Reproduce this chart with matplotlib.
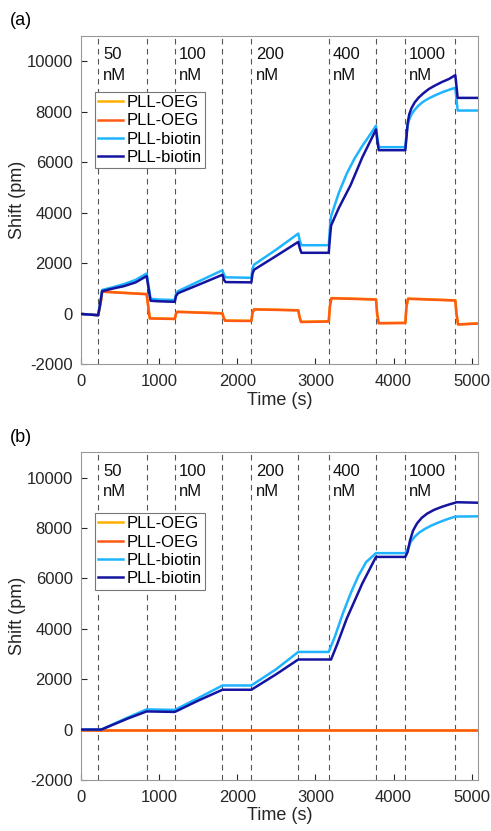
import matplotlib
matplotlib.use("Agg")
import matplotlib.pyplot as plt

plt.rcParams['font.family'] = ['Liberation Sans', 'DejaVu Sans']
plt.rcParams['axes.unicode_minus'] = False

# injection / rinse times (s)
a_marks = [220, 840, 1200, 1810, 2180, 3170, 3775, 4150, 4790]
b_marks = [220, 840, 1200, 1810, 2180, 2780, 3170, 3775, 4150, 4790]
conc_x = [285, 1255, 2235, 3220, 4190]
conc_lbl = ['50\nnM', '100\nnM', '200\nnM', '400\nnM', '1000\nnM']

# panel (a)
a_t_dark = [0, 220, 250, 270, 400, 550, 700, 840, 870, 890, 1000, 1200, 1215, 1240, 1500, 1810,
            1830, 1850, 2180, 2195, 2215, 2500, 2780, 2800, 2820, 3170, 3185, 3200, 3300, 3450,
            3600, 3775, 3790, 3810, 4150, 4165, 4180, 4200, 4230, 4270, 4320, 4380, 4450, 4530,
            4620, 4710, 4790, 4805, 4820, 5080]
a_dark = [0, -50, 500, 900, 1000, 1100, 1250, 1500, 900, 520, 500, 480, 700, 820, 1150, 1550,
          1350, 1260, 1250, 1600, 1750, 2300, 2850, 2600, 2420, 2420, 3000, 3500, 4200, 5100,
          6200, 7300, 6900, 6480, 6480, 7000, 7550, 7900, 8150, 8370, 8560, 8730, 8900, 9040,
          9180, 9300, 9450, 9000, 8550, 8550]
a_t_light = [0, 220, 250, 270, 400, 550, 700, 840, 870, 890, 1000, 1200, 1215, 1240, 1500, 1810,
             1830, 1850, 2180, 2195, 2215, 2500, 2780, 2800, 2820, 3170, 3185, 3200, 3300, 3400,
             3500, 3600, 3700, 3775, 3790, 3810, 4150, 4165, 4180, 4200, 4230, 4270, 4320, 4380,
             4450, 4530, 4620, 4710, 4790, 4805, 4820, 5080]
a_light = [0, -50, 500, 950, 1050, 1180, 1350, 1600, 1000, 600, 570, 550, 780, 900, 1280, 1730,
           1550, 1450, 1430, 1800, 1950, 2550, 3180, 2900, 2720, 2720, 3400, 3870, 4800, 5550,
           6150, 6650, 7100, 7450, 7000, 6600, 6600, 7100, 7450, 7700, 7900, 8080, 8250, 8400,
           8530, 8650, 8770, 8870, 8950, 8500, 8050, 8050]
a_t_oeg = [0, 220, 250, 270, 840, 860, 880, 1200, 1215, 1235, 1810, 1825, 1845, 2180, 2195, 2215,
           2780, 2795, 2815, 3170, 3185, 3205, 3775, 3790, 3810, 4150, 4165, 4185, 4790, 4805,
           4825, 5080]
a_oeg2 = [0, -50, 400, 880, 780, 300, -180, -200, 0, 80, 20, -150, -270, -280, 50, 180,
          140, -100, -320, -300, 300, 620, 570, 0, -370, -360, 300, 600, 530, 0,
          -420, -380]
a_oeg1 = [0, -50, 400, 890, 790, 300, -170, -190, 0, 90, 30, -150, -260, -270, 50, 190,
          150, -100, -310, -290, 300, 630, 580, 0, -360, -350, 300, 610, 540, 0,
          -410, -370]

# panel (b)
b_t_light = [0, 260, 400, 600, 840, 1200, 1500, 1810, 2180, 2500, 2780, 3170, 3250, 3350, 3450,
             3550, 3650, 3775, 4150, 4180, 4220, 4270, 4330, 4400, 4480, 4570, 4680, 4790, 5080]
b_light = [0, 0, 200, 480, 800, 780, 1250, 1750, 1750, 2400, 3080, 3080, 3700, 4600, 5400,
           6100, 6650, 7000, 7000, 7150, 7450, 7650, 7820, 7960, 8090, 8210, 8340, 8450, 8460]
b_t_dark = [0, 260, 400, 600, 840, 1200, 1500, 1810, 2180, 2500, 2780, 3200, 3280, 3400, 3500,
            3600, 3700, 3775, 4150, 4180, 4210, 4250, 4300, 4360, 4430, 4520, 4620, 4720, 4790,
            4800, 5080]
b_dark = [0, 0, 180, 440, 720, 700, 1150, 1580, 1580, 2200, 2780, 2780, 3400, 4400, 5100,
          5800, 6400, 6850, 6850, 7050, 7500, 7900, 8180, 8400, 8570, 8720, 8840, 8940, 9000,
          9020, 9000]
b_t_oeg = [0, 5080]
b_oeg = [0, 0]

c_oeg1 = '#FFB000'
c_oeg2 = '#FF5A14'
c_light = '#1EB4FF'
c_dark = '#1414A0'

fig = plt.figure(figsize=(4.91, 8.31), dpi=100)
ax_a = fig.add_axes([0.165, 0.5614, 0.8085, 0.3953])
ax_b = fig.add_axes([0.165, 0.0614, 0.8085, 0.3943])

panels = [
    (ax_a, a_marks, [(a_t_oeg, a_oeg1), (a_t_oeg, a_oeg2), (a_t_light, a_light), (a_t_dark, a_dark)], 0.83),
    (ax_b, b_marks, [(b_t_oeg, b_oeg), (b_t_oeg, b_oeg), (b_t_light, b_light), (b_t_dark, b_dark)], 0.815),
]
names = ['PLL-OEG', 'PLL-OEG', 'PLL-biotin', 'PLL-biotin']
colors = [c_oeg1, c_oeg2, c_light, c_dark]

for ax, marks, series, leg_y in panels:
    for m in marks:
        ax.axvline(m, color='#555555', ls=(0, (5, 4)), lw=0.8, zorder=1)
    for (t, v), nm, c in zip(series, names, colors):
        ax.plot(t, v, color=c, lw=1.8, label=nm, zorder=3)
    for x, s in zip(conc_x, conc_lbl):
        ax.text(x, 10550, s, fontsize=12, ha='left', va='top', linespacing=1.45, color='#111111')
    ax.set_xlim(0, 5080)
    ax.set_ylim(-2000, 11000)
    ax.set_xticks(range(0, 5001, 1000))
    ax.set_yticks(range(-2000, 10001, 2000))
    ax.tick_params(direction='in', labelsize=12, colors='#262626', length=4)
    ax.tick_params(axis='x', pad=7)
    ax.tick_params(axis='y', pad=6)
    for sp in ax.spines.values():
        sp.set_color('#999999')
        sp.set_linewidth(0.8)
    ax.set_xlabel('Time (s)', fontsize=13, color='#262626', labelpad=2)
    ax.set_ylabel('Shift (pm)', fontsize=13, color='#262626', labelpad=0)
    leg = ax.legend(loc='upper left', bbox_to_anchor=(0.035, leg_y), fancybox=False,
                    fontsize=12, handlelength=1.5, handletextpad=0.2, borderpad=0.2,
                    labelspacing=0.2, borderaxespad=0, framealpha=1)
    leg.get_frame().set_edgecolor('#777777')
    leg.get_frame().set_linewidth(0.8)

fig.text(0.02, 0.975, '(a)', fontsize=13, va='center')
fig.text(0.02, 0.474, '(b)', fontsize=13, va='center')

fig.savefig('out.png', dpi=100)
